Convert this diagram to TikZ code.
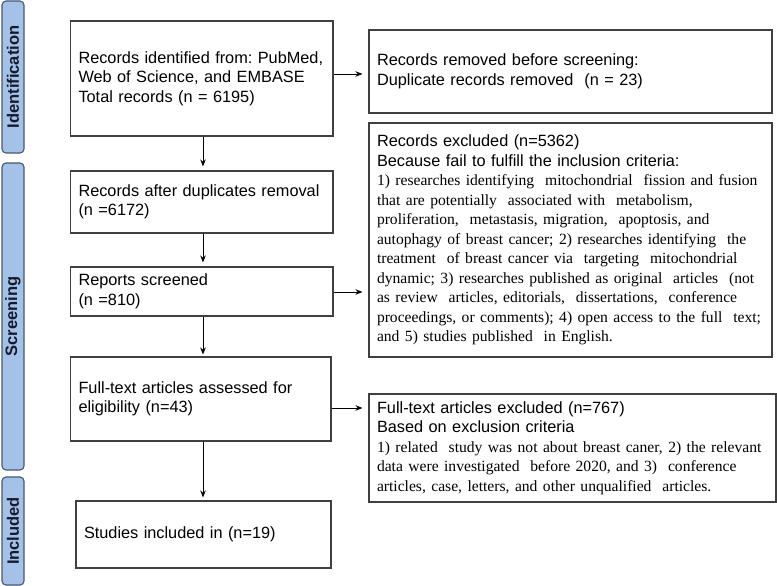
\documentclass[tikz,border=0pt]{standalone}
\usepackage{fontspec}
\setmainfont{Liberation Serif}
\setsansfont{Liberation Sans}
\usetikzlibrary{arrows.meta}
\definecolor{barfill}{RGB}{164,194,232}
\definecolor{barline}{RGB}{70,88,112}
\definecolor{bartext}{RGB}{22,26,44}
\definecolor{boxline}{RGB}{64,64,64}
\begin{document}
\frenchspacing
\begin{tikzpicture}[x=1pt,y=-1pt,
  box/.style={draw=boxline, line width=1.1pt, inner xsep=8pt, inner ysep=0pt,
    align=left, anchor=center,
    font=\sffamily\fontsize{16.3}{19.5}\selectfont\frenchspacing},
  bar/.style={draw=barline, fill=barfill, line width=1.1pt, rounded corners=4pt,
    minimum width=22pt, inner sep=0pt, anchor=center, text=bartext,
    font=\sffamily\bfseries\fontsize{16.5}{19}\selectfont},
  arr/.style={-{Stealth[length=7pt,width=5.5pt]}, line width=0.9pt, black, shorten >=4pt}]
\useasboundingbox (0,0) rectangle (777,586);

% side bars
\node[bar, minimum height=152pt] (idbar) at (13,77) {\rotatebox{90}{Identification}};
\node[bar, minimum height=307pt] (scbar) at (13,316.5) {\rotatebox{90}{Screening}};
\node[bar, minimum height=108pt] (inbar) at (13,531) {\rotatebox{90}{Included}};

% left column
\node[box, text width=246.5pt, minimum height=115pt] (b1) at (201.75,78.5)
  {\mbox{Records identified from: PubMed,}\\Web of Science, and EMBASE\\Total records (n = 6195)};
\node[box, text width=246.5pt, minimum height=62pt] (b2) at (201.75,202)
  {Records after duplicates removal\\(n =6172)};
\node[box, text width=246.5pt, minimum height=49pt] (b3) at (201.75,291.5)
  {Reports screened\\(n =810)};
\node[box, text width=244.5pt, minimum height=84pt] (b4) at (200.75,399)
  {Full-text articles assessed for\\eligibility (n=43)};
\node[box, text width=239pt, minimum height=67pt] (b5) at (203.5,534.5)
  {Studies included in (n=19)};

% right column
\node[box, text width=387pt, minimum height=83pt] (r1) at (570.5,71.5)
  {Records removed before screening:\\Duplicate records removed\ \ (n = 23)};
\node[box, text width=387pt, minimum height=234pt] (r2) at (570.5,240)
  {Records excluded (n=5362)\\Because fail to fulfill the inclusion criteria:\par
   \rmfamily\fontsize{15.6}{19.5}\selectfont
   1) researches identifying\ \ mitochondrial\ \ fission and fusion\\
   that are potentially\ \ associated with\ \ metabolism,\\
   proliferation,\ \ metastasis, migration,\ \ apoptosis, and\\
   autophagy of breast cancer; 2) researches identifying\ \ the\\
   treatment\ \ of breast cancer via\ \ targeting\ \ mitochondrial\\
   dynamic; 3) researches published as original\ \ articles\ \ (not\\
   as review\ \ articles, editorials,\ \ dissertations,\ \ conference\\
   \mbox{proceedings, or comments); 4) open access to the full\ \ text;}\\
   and 5) studies published\ \ in English.};
\node[box, text width=391pt, minimum height=108pt] (r3) at (572.5,448)
  {Full-text articles excluded (n=767)\\Based on exclusion criteria\par
   \rmfamily\fontsize{15.6}{19.5}\selectfont
   1) related\ \ study was not about breast caner, 2) the relevant\\
   data were investigated\ \ before 2020, and 3)\ \ conference\\
   articles, case, letters, and other unqualified\ \ articles.};

% connectors
\coordinate (ax) at (203,0);
\draw[arr] (b1.south -| ax) -- (b2.north -| ax);
\draw[arr] (b2.south -| ax) -- (b3.north -| ax);
\draw[arr, shorten >=2pt] (b3.south -| ax) -- (b4.north -| ax);
\draw[arr, shorten >=3pt] (b4.south -| ax) -- (b5.north -| ax);
\draw[arr, shorten >=6pt] (b1.east |- 0,74) -- (r1.west |- 0,74);
\draw[arr, shorten >=6pt] (b3.east |- 0,292) -- (r2.west |- 0,292);
\draw[arr, shorten >=6pt] (b4.east |- 0,408) -- (r3.west |- 0,408);
\end{tikzpicture}
\end{document}
